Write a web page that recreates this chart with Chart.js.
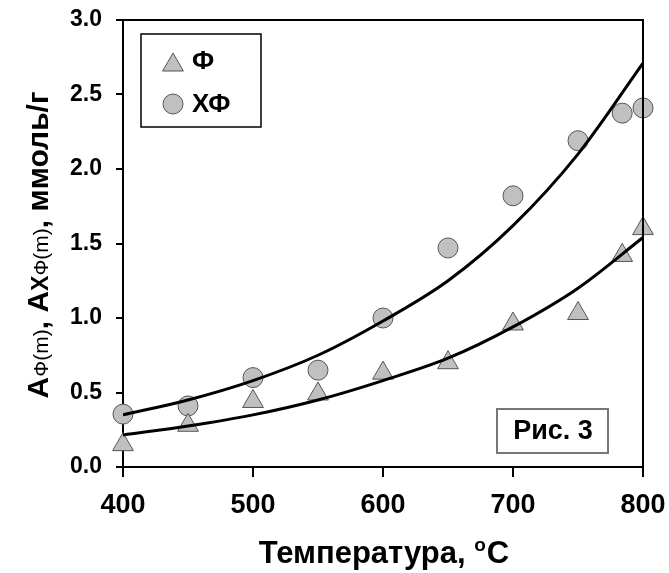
<!DOCTYPE html>
<html>
<head>
<meta charset="utf-8">
<script src="https://cdn.jsdelivr.net/npm/chart.js@4.4.0/dist/chart.umd.min.js"></script>
<style>
  body { margin: 0; background: #fff; }
  canvas { display: block; }
</style>
</head>
<body>
<canvas id="myChart" width="669" height="573"></canvas>
<script>
// данные с графика
const temps = [400, 450, 500, 550, 600, 650, 700, 750, 784, 800];
const phiVals = [0.15, 0.28, 0.44, 0.49, 0.63, 0.70, 0.96, 1.03, 1.42, 1.60];
const xphiVals = [0.355, 0.41, 0.60, 0.65, 1.00, 1.47, 1.82, 2.19, 2.375, 2.41];

// линии аппроксимации
const fitTemps = [400, 450, 500, 550, 600, 650, 700, 750, 800];
const phiFit = [0.215, 0.275, 0.35, 0.45, 0.58, 0.73, 0.94, 1.20, 1.54];
const xphiFit = [0.35, 0.45, 0.58, 0.75, 0.98, 1.25, 1.62, 2.10, 2.71];

const xTicks = [400, 500, 600, 700, 800];
const yTicks = [0, 0.5, 1.0, 1.5, 2.0, 2.5, 3.0];

const FONT = "'Liberation Sans', Arial, sans-serif";
const markerFill = "#c0c0c0";
const markerBorder = "#555";

function toPoints(xs, ys) {
    return xs.map((x, i) => ({ x: x, y: ys[i] }));
}

function noPad(s) {
    s.paddingTop = 0;
    s.paddingBottom = 0;
    s.paddingLeft = 0;
    s.paddingRight = 0;
}

// рамка, легенда, подписи осей
const extras = {
    id: "extras",
    afterDraw(chart) {
        const ctx = chart.ctx;
        const a = chart.chartArea;
        ctx.save();

        // верх и правая сторона рамки
        ctx.strokeStyle = "#000";
        ctx.lineWidth = 2;
        ctx.beginPath();
        ctx.moveTo(a.left, a.top);
        ctx.lineTo(a.right, a.top);
        ctx.lineTo(a.right, a.bottom);
        ctx.stroke();

        // легенда
        ctx.lineWidth = 1.5;
        ctx.strokeStyle = "#000";
        ctx.strokeRect(141, 34, 120, 93);
        ctx.fillStyle = markerFill;
        ctx.strokeStyle = markerBorder;
        ctx.lineWidth = 1;
        Chart.helpers.drawPoint(ctx, { pointStyle: "triangle", radius: 12, borderWidth: 1 }, 173, 65);
        Chart.helpers.drawPoint(ctx, { pointStyle: "circle", radius: 10, borderWidth: 1 }, 173, 104);
        ctx.fillStyle = "#000";
        ctx.font = "bold 26px " + FONT;
        ctx.textBaseline = "middle";
        ctx.textAlign = "left";
        ctx.fillText("Ф", 192, 62);
        ctx.fillText("ХФ", 192, 105);

        // Рис. 3
        ctx.strokeStyle = "#777";
        ctx.lineWidth = 2;
        ctx.strokeRect(497, 409, 111, 44);
        ctx.fillStyle = "#000";
        ctx.font = "bold 27px " + FONT;
        ctx.textAlign = "center";
        ctx.fillText("Рис. 3", 553, 432);

        // подпись оси X
        const big = "bold 31px " + FONT;
        const sup = "bold 19px " + FONT;
        ctx.textAlign = "left";
        ctx.textBaseline = "alphabetic";
        const p1 = "Температура, ", p2 = "o", p3 = "C";
        ctx.font = big; const w1 = ctx.measureText(p1).width; const w3 = ctx.measureText(p3).width;
        ctx.font = sup; const w2 = ctx.measureText(p2).width + 1;
        let x = 384 - (w1 + w2 + w3) / 2;
        const base = 563;
        ctx.font = big; ctx.fillText(p1, x, base); x += w1;
        ctx.font = sup; ctx.fillText(p2, x, base - 12); x += w2;
        ctx.font = big; ctx.fillText(p3, x, base);

        // подпись оси Y
        const segs = [
            ["А", "bold 30px " + FONT],
            ["Ф(m)", "21px " + FONT],
            [", А", "bold 30px " + FONT],
            ["Х", "bold 23px " + FONT],
            ["Ф(m)", "21px " + FONT],
            [", ммоль/г", "bold 30px " + FONT]
        ];
        let total = 0;
        const widths = segs.map(s => { ctx.font = s[1]; const w = ctx.measureText(s[0]).width; total += w; return w; });
        ctx.translate(48, 245);
        ctx.rotate(-Math.PI / 2);
        let sx = -total / 2;
        segs.forEach((s, i) => {
            ctx.font = s[1];
            ctx.fillText(s[0], sx, 0);
            sx += widths[i];
        });
        ctx.restore();
    }
};

const config = {
    type: "scatter",
    data: {
        datasets: [
            {
                label: "ХФ аппр.",
                data: toPoints(fitTemps, xphiFit),
                showLine: true,
                borderColor: "#000",
                borderWidth: 3,
                pointRadius: 0,
                cubicInterpolationMode: "monotone",
                order: 0
            },
            {
                label: "Ф аппр.",
                data: toPoints(fitTemps, phiFit),
                showLine: true,
                borderColor: "#000",
                borderWidth: 3,
                pointRadius: 0,
                cubicInterpolationMode: "monotone",
                order: 0
            },
            {
                label: "Ф",
                data: toPoints(temps, phiVals),
                pointStyle: "triangle",
                pointRadius: 12,
                backgroundColor: markerFill,
                borderColor: markerBorder,
                borderWidth: 1,
                clip: false,
                order: 1
            },
            {
                label: "ХФ",
                data: toPoints(temps, xphiVals),
                pointStyle: "circle",
                pointRadius: 10,
                backgroundColor: markerFill,
                borderColor: markerBorder,
                borderWidth: 1,
                clip: false,
                order: 1
            }
        ]
    },
    options: {
        responsive: false,
        animation: false,
        devicePixelRatio: 1,
        layout: { padding: { top: 20, right: 26, left: 0, bottom: 0 } },
        plugins: {
            legend: { display: false },
            tooltip: { enabled: false }
        },
        scales: {
            x: {
                type: "linear",
                min: 400,
                max: 800,
                afterBuildTicks: s => { s.ticks = xTicks.map(v => ({ value: v })); },
                afterFit: s => { s.height = 106; noPad(s); },
                ticks: {
                    color: "#000",
                    font: { family: FONT, size: 27, weight: "bold" },
                    padding: 12,
                    maxRotation: 0
                },
                grid: { display: true, drawOnChartArea: false, drawTicks: true, tickLength: 10, color: "#000", lineWidth: 2 },
                border: { display: true, color: "#000", width: 2 }
            },
            y: {
                min: 0,
                max: 3,
                afterBuildTicks: s => { s.ticks = yTicks.map(v => ({ value: v })); },
                afterFit: s => { s.width = 123; noPad(s); },
                ticks: {
                    color: "#000",
                    font: { family: FONT, size: 23, weight: "bold" },
                    padding: 14,
                    callback: v => v.toFixed(1)
                },
                grid: { display: true, drawOnChartArea: false, drawTicks: true, tickLength: 7, color: "#000", lineWidth: 2 },
                border: { display: true, color: "#000", width: 2 }
            }
        }
    },
    plugins: [extras]
};

window.chart = new Chart(document.getElementById("myChart"), config);
</script>
</body>
</html>
